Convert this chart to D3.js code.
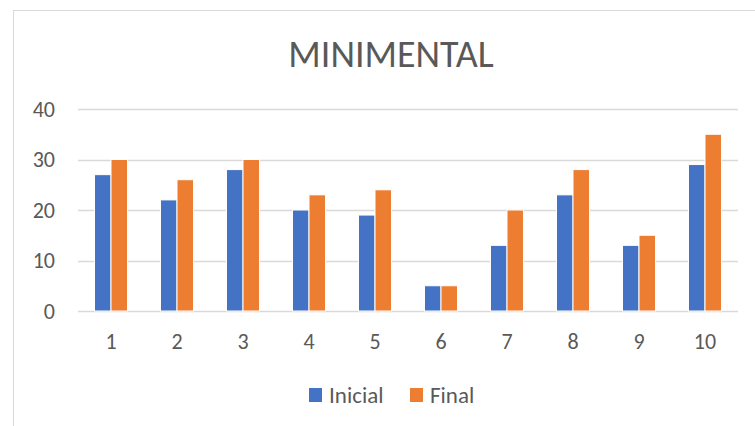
<!DOCTYPE html>
<html>
<head>
<meta charset="utf-8">
<script src="https://cdn.jsdelivr.net/npm/d3@7"></script>
<style>
  body { margin: 0; background: #fff; }
  text { font-family: Carlito, Calibri, "Open Sans", sans-serif; fill: #595959; }
</style>
</head>
<body>
<svg width="755" height="426"></svg>
<script>
const categories = ['1', '2', '3', '4', '5', '6', '7', '8', '9', '10']
const seriesNames = ['Inicial', 'Final']
const inicial = [27, 22, 28, 20, 19, 5, 13, 23, 13, 29]
const final = [30, 26, 30, 23, 24, 5, 20, 28, 15, 35]
const yTicks = [0, 10, 20, 30, 40]
const colors = ['#4472c4', '#ed7d31']

const svg = d3.select('svg')
const margin = {left: 78, right: 17, top: 109, bottom: 115}
const width = 755 - margin.left - margin.right
const height = 426 - margin.top - margin.bottom

// chart frame (extends past the picture on the right and bottom)
svg.append('rect')
    .attr('x', 13.5).attr('y', 10.5)
    .attr('width', 800).attr('height', 500)
    .attr('fill', 'none')
    .attr('stroke', '#d9d9d9')

const x = d3.scaleBand().domain(categories).range([margin.left, margin.left + width])
    .paddingInner(0.5).paddingOuter(0.25)
const x1 = d3.scaleBand().domain(seriesNames).range([0, x.bandwidth()])
const y = d3.scaleLinear().domain([0, 40]).range([margin.top + height, margin.top])

// gridlines
svg.append('g')
    .selectAll('line')
    .data(yTicks)
    .join('line')
    .attr('x1', margin.left).attr('x2', margin.left + width)
    .attr('y1', d => Math.round(y(d)) + 0.5).attr('y2', d => Math.round(y(d)) + 0.5)
    .attr('stroke', '#d9d9d9')
    .attr('stroke-width', 1.5)

// y labels
const yAxis = svg.append('g')
    .attr('transform', `translate(${margin.left - 23},0)`)
    .call(d3.axisLeft(y).tickValues(yTicks).tickSize(0).tickPadding(0))
yAxis.select('.domain').remove()
yAxis.selectAll('text').attr('font-size', 22).attr('fill', '#595959')
    .style('font-family', 'Carlito, Calibri, "Open Sans", sans-serif')

// x labels
const xAxis = svg.append('g')
    .attr('transform', `translate(0,${margin.top + height})`)
    .call(d3.axisBottom(x).tickSize(0).tickPadding(22))
xAxis.select('.domain').remove()
xAxis.selectAll('text').attr('font-size', 22).attr('fill', '#595959')
    .style('font-family', 'Carlito, Calibri, "Open Sans", sans-serif')

// bars
const data = categories.map((c, i) => ({cat: c, values: [inicial[i], final[i]]}))
svg.append('g')
    .selectAll('g')
    .data(data)
    .join('g')
    .attr('transform', d => `translate(${x(d.cat)},0)`)
    .selectAll('rect')
    .data(d => d.values.map((v, j) => ({name: seriesNames[j], value: v, j: j})))
    .join('rect')
    .attr('x', d => x1(d.name))
    .attr('width', x1.bandwidth())
    .attr('y', d => y(d.value))
    .attr('height', d => y(0) - y(d.value))
    .attr('fill', d => colors[d.j])
    .attr('stroke', '#fff')
    .attr('stroke-width', 1)

// title
svg.append('text')
    .attr('x', 391).attr('y', 67)
    .attr('text-anchor', 'middle')
    .attr('font-size', 38)
    .text('MINIMENTAL')

// legend
const legend = svg.append('g').attr('transform', 'translate(309,395)')
const legendX = [0, 101]
seriesNames.forEach((name, i) => {
    legend.append('rect')
        .attr('x', legendX[i]).attr('y', -7)
        .attr('width', 13).attr('height', 14)
        .attr('fill', colors[i])
    legend.append('text')
        .attr('x', legendX[i] + 20).attr('y', 0)
        .attr('dy', '0.35em')
        .attr('font-size', 23)
        .text(name)
})
</script>
</body>
</html>
